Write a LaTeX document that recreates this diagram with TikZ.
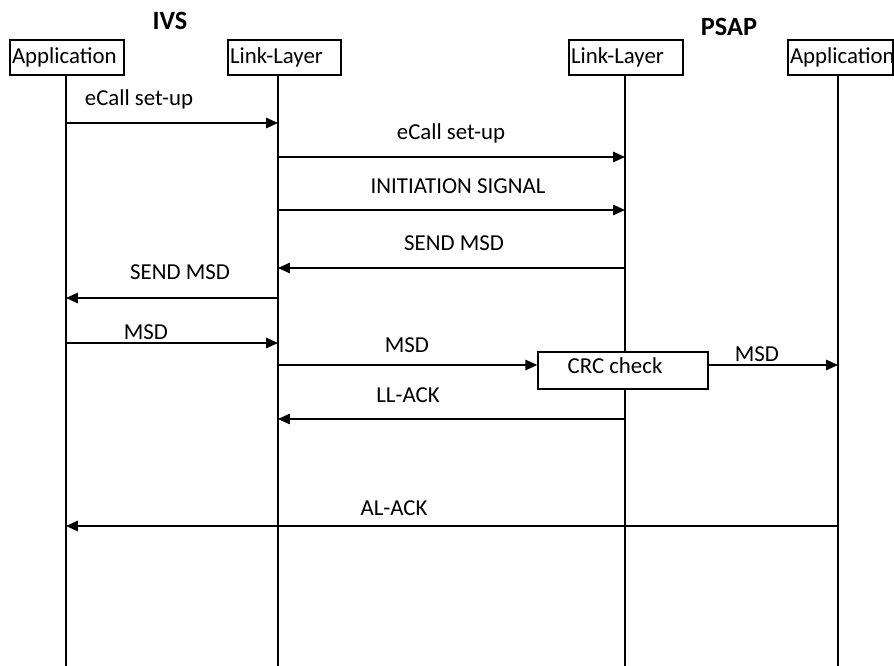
\documentclass[tikz,border=0pt]{standalone}
\usepackage{fontspec}
\setmainfont{Carlito}
\usepackage{tikz}
\usetikzlibrary{arrows.meta}
\tikzset{
  actor/.style={rectangle, draw=black, fill=white, line width=0.8pt, minimum height=0.7cm, inner xsep=0.04cm, inner ysep=1pt, align=left, font=\fontsize{13}{15}\selectfont},
  life/.style={line width=0.8pt},
  msg/.style={line width=0.8pt, -{Triangle[length=2.4mm,width=2.1mm]}},
  lbl/.style={font=\fontsize{13}{15}\selectfont, inner sep=0pt},
  side/.style={font=\fontsize{15}{17}\selectfont\bfseries, inner sep=0pt},
  checkbox/.style={rectangle, draw=black, fill=white, line width=0.8pt, minimum width=3.4cm, minimum height=0.74cm, font=\fontsize{13}{15}\selectfont}
}

\begin{document}
\begin{tikzpicture}[x=0.02cm, y=-0.02cm]
  \useasboundingbox (0,0) rectangle (894,666);

  % sides
  \node[side] (ivs) at (170,21) {IVS};
  \node[side] (psap) at (729,27) {PSAP};

  % actors
  \node[actor, text width=2.2cm] (appA) at (67,57.5) {Application};
  \node[actor, text width=2.18cm] (llA) at (284.5,57.5) {Link-Layer};
  \node[actor, text width=2.2cm] (llB) at (626,57.5) {Link-Layer};
  \node[actor, text width=2.02cm] (appB) at (840.5,57.5) {Application};

  % lifelines
  \coordinate (laneA) at (66,75);
  \coordinate (laneB) at (278,75);
  \coordinate (laneC) at (625,75);
  \coordinate (laneD) at (838,75);
  \coordinate (bot) at (0,666);
  \draw[life] (laneA) -- (laneA |- bot);
  \draw[life] (laneB) -- (laneB |- bot);
  \draw[life] (laneC) -- (laneC |- bot);
  \draw[life] (laneD) -- (laneD |- bot);

  % message heights
  \coordinate (m1) at (0,123);
  \coordinate (m2) at (0,157);
  \coordinate (m3) at (0,210);
  \coordinate (m4) at (0,268);
  \coordinate (m5) at (0,298);
  \coordinate (m6) at (0,343);
  \coordinate (m7) at (0,365);
  \coordinate (m8) at (0,419);
  \coordinate (m9) at (0,526);

  \node[checkbox] (crc) at (623,370.5) {};
  \node[lbl] (crctext) at (615,366) {CRC check};

  \draw[msg] (laneA |- m1) -- (laneB |- m1);
  \node[lbl] (t1) at (139,99) {eCall set-up};

  \draw[msg] (laneB |- m2) -- (laneC |- m2);
  \node[lbl] (t2) at (451,133) {eCall set-up};

  \draw[msg] (laneB |- m3) -- (laneC |- m3);
  \node[lbl] (t3) at (458,186) {INITIATION SIGNAL};

  \draw[msg] (laneC |- m4) -- (laneB |- m4);
  \node[lbl] (t4) at (454,243) {SEND MSD};

  \draw[msg] (laneB |- m5) -- (laneA |- m5);
  \node[lbl] (t5) at (180,272) {SEND MSD};

  \draw[msg] (laneA |- m6) -- (laneB |- m6);
  \node[lbl] (t6) at (146,332) {MSD};

  \draw[msg] (laneB |- m7) -- (crc.west |- m7);
  \node[lbl] (t7) at (407,345) {MSD};

  \draw[msg] (crc.east |- m7) -- (laneD |- m7);
  \node[lbl] (t8) at (757,354) {MSD};

  \draw[msg] (laneC |- m8) -- (laneB |- m8);
  \node[lbl] (t9) at (408,395) {LL-ACK};

  \draw[msg] (laneD |- m9) -- (laneA |- m9);
  \node[lbl] (t10) at (394,508) {AL-ACK};
\end{tikzpicture}
\end{document}
